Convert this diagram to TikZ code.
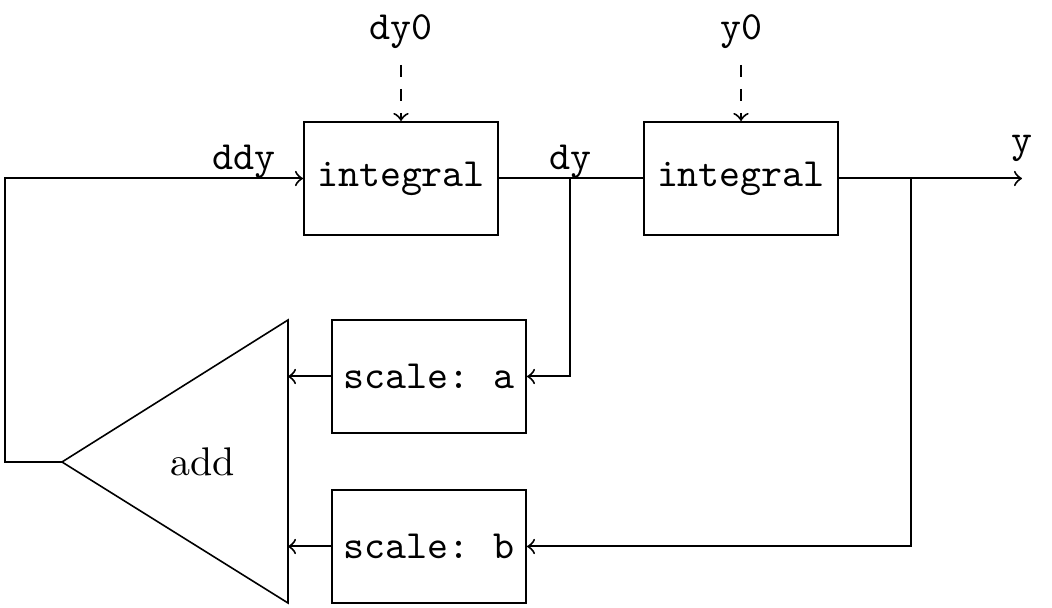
\documentclass[tikz,border=0pt]{standalone}
\usepackage{amsmath}
\usepackage{tikz}
\tikzset{
    block-box/.style = {draw, line width=0.5pt, rectangle, inner xsep=1pt, minimum width=48.5pt, minimum height=28.25pt, font=\ttfamily},
    signal-label/.style = {anchor=base, font=\ttfamily, inner sep=0pt},
    signal-line/.style = {line width=0.5pt},
    init-arrow/.style = {->, dashed, line width=0.5pt},
}

\begin{document}
\begin{tikzpicture}[x=0.25pt, y=-0.25pt]
\useasboundingbox (0,0) rectangle (1052,608);
\node [block-box] (int1) at (401,178.5) {integral};
\node [block-box] (int2) at (741,178.5) {integral};
\node [block-box] (sca) at (429,376.5) {scale:\hspace{-1.2pt} a};
\node [block-box] (scb) at (429,546.5) {scale:\hspace{-1.2pt} b};
\node [signal-label] (dy0) at (401,40) {dy0};
\node [signal-label] (y0) at (741,40) {y0};
\node [signal-label] (ddy) at (244,170) {ddy};
\node [signal-label] (dy) at (570,170) {dy};
\node [signal-label] (y) at (1022,153) {y};
% adder
\coordinate (apex) at (62,462);
\coordinate (ina) at (288,376.5);
\coordinate (inb) at (288,546.5);
\draw (apex) -- (288,320) -- (288,603) -- cycle;
\node (add) at (203,462) {add};
% signal lines
\coordinate (dybr) at (570,178.5);
\coordinate (ybr) at (911,178.5);
\coordinate (yout) at (1022,178.5);
\coordinate (fb) at (5,462);
\coordinate (fbtop) at (5,178.5);
\draw [init-arrow] (401,65) -- (int1.north);
\draw [init-arrow] (741,65) -- (int2.north);
\draw [signal-line, ->] (apex) -- (fb) -- (fbtop) -- (int1.west);
\draw [signal-line] (int1.east) -- (dybr) -- (int2.west);
\draw [signal-line, ->] (int2.east) -- (ybr) -- (yout);
\draw [signal-line, ->] (dybr) |- (sca.east);
\draw [signal-line, ->] (ybr) |- (scb.east);
\draw [signal-line, ->] (sca.west) -- (ina);
\draw [signal-line, ->] (scb.west) -- (inb);
\end{tikzpicture}
\end{document}
